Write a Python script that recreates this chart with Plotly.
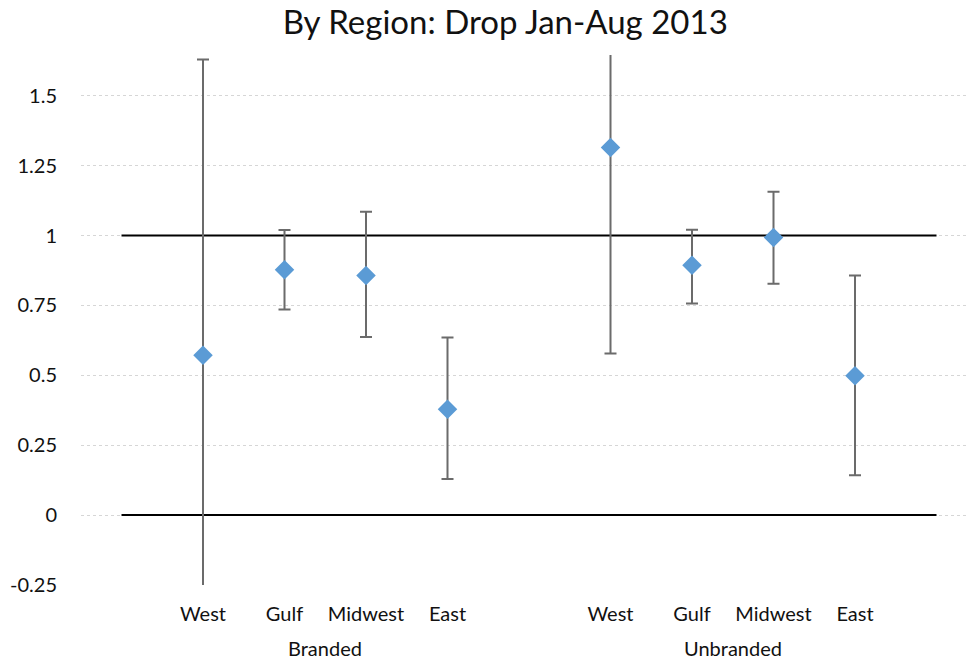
import plotly.graph_objects as go

# Data
regions = ["West", "Gulf", "Midwest", "East"]
groups = ["Branded", "Unbranded"]
branded_mean = [0.572, 0.878, 0.857, 0.379]
branded_upper = [1.630, 1.020, 1.085, 0.635]
branded_lower = [-0.30, 0.736, 0.637, 0.129]
unbranded_mean = [1.315, 0.894, 0.993, 0.499]
unbranded_upper = [1.70, 1.021, 1.157, 0.857]
unbranded_lower = [0.578, 0.757, 0.828, 0.143]
reference_levels = [0, 1]
y_ticks = [-0.25, 0, 0.25, 0.5, 0.75, 1, 1.25, 1.5]
y_tick_labels = ["-0.25", "0", "0.25", "0.5", "0.75", "1", "1.25", "1.5"]

# positions: two groups of four with a gap between
x_branded = [1, 2, 3, 4]
x_unbranded = [6, 7, 8, 9]
x_all = x_branded + x_unbranded
mean_all = branded_mean + unbranded_mean
upper_all = branded_upper + unbranded_upper
lower_all = branded_lower + unbranded_lower

FONT = "Lato, Carlito, Calibri, sans-serif"
TXT = "#111111"

fig = go.Figure()

for lvl in reference_levels:
    fig.add_trace(go.Scatter(
        x=[0, 10], y=[lvl, lvl], mode="lines",
        line=dict(color="black", width=2), hoverinfo="skip", showlegend=False))

fig.add_trace(go.Scatter(
    x=x_all, y=mean_all, mode="markers",
    marker=dict(symbol="diamond", size=15, color="#5B9BD5"),
    error_y=dict(type="data", symmetric=False,
                 array=[u - m for u, m in zip(upper_all, mean_all)],
                 arrayminus=[m - l for m, l in zip(mean_all, lower_all)],
                 color="#6b6b6b", thickness=2, width=6),
    showlegend=False))

fig.update_layout(
    width=966, height=664,
    margin=dict(l=81, r=0, t=55, b=79),
    paper_bgcolor="white", plot_bgcolor="white",
    font=dict(family=FONT, size=20, color=TXT),
    title=dict(text="By Region: Drop Jan-Aug 2013", x=0.523, xanchor="center",
               y=1 - 22 / 664, yanchor="middle",
               font=dict(family=FONT, size=33, color=TXT)),
    xaxis=dict(range=[-0.497, 10.362], tickvals=x_all, ticktext=regions + regions,
               showgrid=False, zeroline=False, showline=False, ticks="",
               tickfont=dict(size=20), ticklabelstandoff=15),
    yaxis=dict(range=[-0.25, 1.646], tickvals=y_ticks, ticktext=y_tick_labels,
               showgrid=True, gridcolor="#d6d6d6", griddash="dot", gridwidth=1,
               zeroline=False, showline=False, ticks="", ticklabelstandoff=23,
               tickfont=dict(size=20)),
)

for g, xs in zip(groups, [x_branded, x_unbranded]):
    fig.add_annotation(x=sum(xs) / len(xs), xref="x", y=-0.25, yref="y",
                       yshift=-63, text=g, showarrow=False,
                       font=dict(family=FONT, size=20, color=TXT))

fig.write_html("out.html", config={"displayModeBar": False},
               post_script="document.body.style.margin='0';document.body.style.padding='0';")
